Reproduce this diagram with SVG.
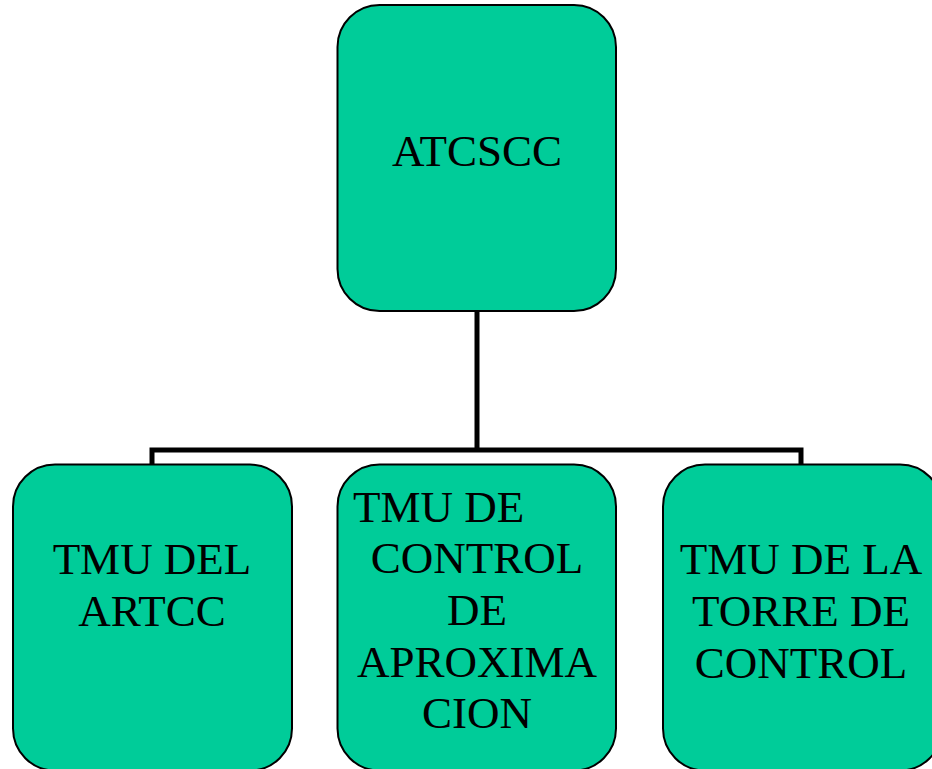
<svg xmlns="http://www.w3.org/2000/svg" width="932" height="769" viewBox="0 0 932 769">
<style>
.box{fill:#00CC99;stroke:#000;stroke-width:2}
.t{font-family:"Liberation Serif","Times New Roman",serif;font-size:45px;fill:#000;text-anchor:middle}
.conn{fill:none;stroke:#000;stroke-width:5}
</style>
<rect width="932" height="769" fill="#fff"/>
<g id="connectors">
<path class="conn" d="M477 311 V450 M152 465 V450 H801 V465"/>
</g>
<g id="atcscc">
<rect class="box" x="337.5" y="5" width="278.5" height="306" rx="42"/>
<text class="t" x="477" y="166">ATCSCC</text>
</g>
<g id="tmu-artcc">
<rect class="box" x="13" y="464.5" width="279" height="306" rx="42"/>
<text class="t" x="152" y="574">TMU DEL</text>
<text class="t" x="152" y="626">ARTCC</text>
</g>
<g id="tmu-aproximacion">
<rect class="box" x="337.5" y="464.5" width="278.5" height="306" rx="42"/>
<text class="t" x="353" y="522" style="text-anchor:start">TMU DE</text>
<text class="t" x="477" y="573">CONTROL</text>
<text class="t" x="477" y="625">DE</text>
<text class="t" x="477" y="677">APROXIMA</text>
<text class="t" x="477" y="728">CION</text>
</g>
<g id="tmu-torre">
<rect class="box" x="663" y="464.5" width="279" height="306" rx="42"/>
<text class="t" x="801" y="574">TMU DE LA</text>
<text class="t" x="801" y="626">TORRE DE</text>
<text class="t" x="801" y="678">CONTROL</text>
</g>
</svg>
